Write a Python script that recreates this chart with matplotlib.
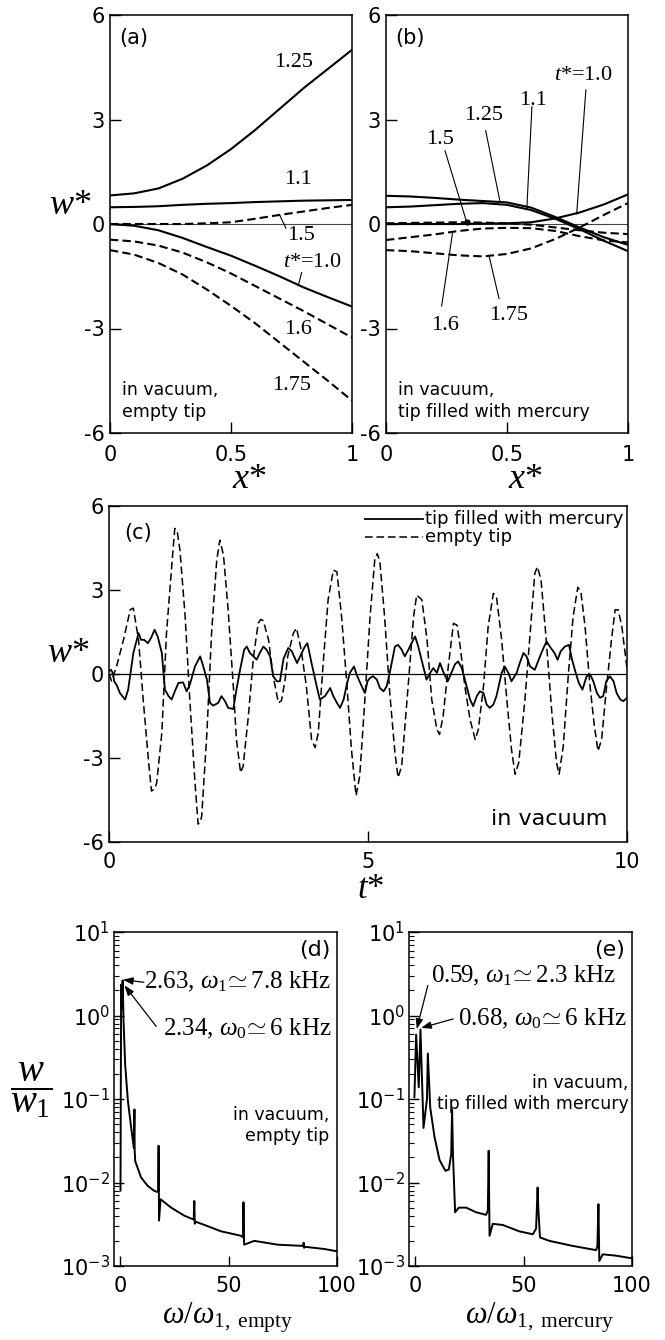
import matplotlib
matplotlib.use("Agg")
import matplotlib.pyplot as plt

plt.rcParams.update({
    "font.family": "DejaVu Sans",
    "mathtext.fontset": "custom",
    "mathtext.rm": "Liberation Serif",
    "mathtext.it": "Liberation Serif:italic",
    "mathtext.bf": "Liberation Serif:bold",
    "axes.unicode_minus": False,
    "axes.linewidth": 1.1,
})
SERIF = "Liberation Serif"

# ---- mode shapes along the cantilever, w*(x*) at several t* ----
x_star = [0.0, 0.1, 0.2, 0.3, 0.4, 0.5, 0.6, 0.7, 0.8, 0.9, 1.0]

# (a) empty tip
a_t100 = [0.0, -0.05, -0.18, -0.40, -0.66, -0.91, -1.20, -1.50, -1.82, -2.10, -2.37]
a_t110 = [0.48, 0.49, 0.51, 0.55, 0.58, 0.60, 0.63, 0.65, 0.67, 0.68, 0.69]
a_t125 = [0.82, 0.88, 1.02, 1.30, 1.68, 2.15, 2.70, 3.30, 3.90, 4.45, 5.00]
a_t150 = [0.0, 0.0, 0.0, 0.0, 0.02, 0.05, 0.15, 0.26, 0.36, 0.46, 0.55]
a_t160 = [-0.45, -0.50, -0.62, -0.82, -1.10, -1.42, -1.78, -2.14, -2.50, -2.88, -3.26]
a_t175 = [-0.75, -0.88, -1.12, -1.45, -1.88, -2.35, -2.85, -3.40, -3.95, -4.50, -5.07]

# (b) tip filled with mercury
b_t100 = [0.0, 0.0, 0.0, 0.0, 0.01, 0.02, 0.05, 0.16, 0.33, 0.56, 0.85]
b_t110 = [0.48, 0.50, 0.54, 0.58, 0.60, 0.55, 0.40, 0.15, -0.15, -0.48, -0.78]
b_t125 = [0.81, 0.79, 0.75, 0.70, 0.66, 0.62, 0.47, 0.20, -0.10, -0.38, -0.60]
b_t150 = [0.02, 0.03, 0.04, 0.05, 0.04, 0.02, -0.02, -0.10, -0.18, -0.25, -0.29]
b_t160 = [-0.46, -0.38, -0.30, -0.20, -0.13, -0.11, -0.12, -0.20, -0.35, -0.47, -0.53]
b_t175 = [-0.75, -0.78, -0.84, -0.90, -0.93, -0.86, -0.70, -0.43, -0.10, 0.26, 0.60]

# ---- (c) tip response in time ----
t_merc = [0.0, 0.04, 0.08, 0.10, 0.15, 0.21, 0.31, 0.37, 0.47, 0.57, 0.62, 0.68, 0.75,
          0.81, 0.88, 0.94, 1.02, 1.08, 1.15, 1.21, 1.27, 1.34, 1.43, 1.50, 1.56, 1.66,
          1.76, 1.82, 1.89, 1.95, 2.01, 2.11, 2.17, 2.24, 2.30, 2.40, 2.46, 2.53, 2.61,
          2.66, 2.72, 2.79, 2.85, 2.91, 2.98, 3.04, 3.11, 3.17, 3.24, 3.30, 3.37, 3.46,
          3.53, 3.63, 3.69, 3.78, 3.83, 3.91, 4.01, 4.07, 4.17, 4.27, 4.33, 4.40, 4.46,
          4.53, 4.59, 4.65, 4.73, 4.78, 4.85, 4.94, 4.99, 5.04, 5.10, 5.17, 5.23, 5.30,
          5.36, 5.42, 5.52, 5.58, 5.65, 5.71, 5.78, 5.84, 5.91, 5.97, 6.05, 6.13, 6.20,
          6.26, 6.33, 6.39, 6.45, 6.54, 6.61, 6.68, 6.74, 6.81, 6.87, 6.97, 7.03, 7.10,
          7.16, 7.23, 7.29, 7.35, 7.42, 7.48, 7.58, 7.64, 7.71, 7.77, 7.87, 7.93, 8.00,
          8.06, 8.13, 8.22, 8.32, 8.40, 8.45, 8.51, 8.60, 8.66, 8.72, 8.80, 8.88, 8.94,
          9.01, 9.07, 9.14, 9.22, 9.29, 9.35, 9.42, 9.48, 9.54, 9.60, 9.67, 9.74, 9.80,
          9.87, 9.93, 10.0]
w_merc = [0.10, 0.15, 0.0, -0.26, -0.40, -0.68, -0.91, -0.56, 0.75, 1.46, 1.22, 1.22, 1.10,
          1.28, 1.58, 1.34, 0.75, -0.56, -0.79, -0.91, -0.62, -0.32, -0.30, -0.62, -0.38, 0.27,
          0.63, 0.27, -0.20, -1.03, -1.13, -1.03, -0.79, -0.97, -1.21, -1.25, -0.56, 0.15, 0.87,
          0.98, 0.75, 0.63, 0.51, 0.75, 0.98, 0.87, 0.63, -0.08, -0.26, -0.26, 0.55, 0.93,
          0.81, 0.39, 0.63, 0.98, 1.10, 0.39, -0.44, -0.91, -0.79, -0.50, -0.79, -1.03, -1.21,
          -0.91, -0.38, 0.04, 0.27, -0.02, -0.32, -0.68, -0.26, -0.14, -0.08, -0.20, -0.50, -0.62,
          -0.44, 0.04, 0.98, 1.04, 0.87, 0.63, 0.87, 1.10, 1.34, 0.98, 0.39, -0.20, 0.04,
          0.21, 0.04, 0.39, 0.09, -0.26, 0.04, 0.35, 0.45, 0.21, -0.20, -0.91, -1.15, -0.79,
          -0.62, -0.68, -1.09, -1.21, -1.09, -0.79, 0.04, 0.27, 0.04, -0.26, 0.04, 0.39, 0.75,
          0.63, 0.27, 0.15, 0.63, 0.98, 1.16, 0.98, 0.75, 0.51, 0.81, 0.98, 1.04, 0.51,
          0.04, -0.32, -0.56, -0.08, -0.02, -0.26, -0.68, -0.85, -0.79, -0.26, -0.08, -0.26, -0.68,
          -0.91, -0.97, -0.85]

t_empty = [0.0, 0.05, 0.15, 0.28, 0.41, 0.47, 0.57, 0.66, 0.76, 0.82, 0.88, 0.92, 1.02,
           1.11, 1.21, 1.27, 1.32, 1.37, 1.47, 1.56, 1.66, 1.72, 1.76, 1.79, 1.89, 1.98,
           2.08, 2.14, 2.21, 2.30, 2.40, 2.46, 2.54, 2.59, 2.69, 2.79, 2.88, 2.93, 2.98,
           3.08, 3.17, 3.27, 3.33, 3.40, 3.45, 3.56, 3.62, 3.71, 3.81, 3.91, 3.98, 4.04,
           4.14, 4.23, 4.33, 4.40, 4.49, 4.59, 4.68, 4.77, 4.84, 4.94, 5.04, 5.13, 5.18,
           5.23, 5.32, 5.42, 5.52, 5.58, 5.65, 5.78, 5.88, 5.94, 6.04, 6.14, 6.23, 6.33,
           6.38, 6.45, 6.55, 6.65, 6.72, 6.78, 6.87, 6.97, 7.07, 7.13, 7.23, 7.32, 7.42,
           7.48, 7.58, 7.68, 7.77, 7.84, 7.91, 8.03, 8.13, 8.22, 8.27, 8.34, 8.43, 8.55,
           8.64, 8.69, 8.77, 8.87, 8.96, 9.05, 9.11, 9.19, 9.28, 9.37, 9.44, 9.51, 9.60,
           9.70, 9.77, 9.83, 9.90, 10.0]
w_empty = [0.0, -0.25, 0.30, 1.22, 2.30, 2.35, 1.22, -0.91, -3.05, -4.18, -4.10, -3.90, -2.10,
           1.46, 3.83, 5.20, 5.05, 4.42, 2.05, -0.91, -3.88, -5.36, -5.30, -5.07, -2.10, 1.46,
           4.07, 4.78, 4.25, 2.29, -0.44, -2.34, -3.52, -3.29, -1.51, 0.63, 1.81, 1.95, 1.90,
           1.22, -0.08, -1.03, -0.95, -0.20, 0.63, 1.46, 1.64, 0.87, -0.44, -2.34, -2.63, -2.10,
           0.51, 2.65, 3.71, 3.65, 2.05, -0.32, -2.69, -4.35, -3.64, -0.91, 2.05, 4.07, 4.30,
           4.00, 2.05, -0.68, -2.81, -3.70, -3.29, -0.32, 2.05, 2.82, 2.65, 1.22, -0.91, -1.98,
           -2.16, -1.51, 0.27, 1.81, 1.74, 0.98, -0.44, -1.63, -2.34, -1.98, -0.44, 1.70, 2.88,
           2.76, 1.22, -0.91, -2.69, -3.58, -3.17, -0.91, 1.46, 3.59, 3.83, 3.36, 1.46, -1.39,
           -3.17, -3.58, -2.57, 0.04, 2.05, 3.10, 2.94, 1.70, -0.32, -1.86, -2.75, -2.34, -0.56,
           1.22, 2.29, 2.29, 1.70, 0.20]

# ---- (d), (e) amplitude spectra ----
freq_empty = [0.0, 0.3, 0.6, 1.0, 1.4, 2.15, 3.4, 4.9, 6.15, 6.45, 6.55, 6.8, 9.5, 12.6,
              15.7, 17.4, 17.6, 17.8, 18.5, 23.4, 29.5, 33.8, 34.1, 34.3, 34.6, 38.8, 46.5,
              55.7, 56.6, 56.8, 57.1, 61.8, 72.6, 84.4, 84.6, 84.8, 85.0, 94.0, 100.0]
amp_empty = [0.008, 2.34, 1.2, 2.63, 0.87, 0.26, 0.096, 0.046, 0.026, 0.075, 0.024, 0.018,
             0.0115, 0.0091, 0.0079, 0.0077, 0.0276, 0.0035, 0.0063, 0.0050, 0.0040, 0.0036,
             0.006, 0.0032, 0.0034, 0.0031, 0.0026, 0.0023, 0.0022, 0.0058, 0.0018, 0.0020,
             0.0018, 0.00174, 0.0019, 0.00165, 0.0017, 0.0016, 0.0015]

freq_merc = [-0.5, 0.3, 1.5, 2.3, 3.7, 5.3, 5.7, 6.8, 8.8, 11.1, 13.8, 15.4, 16.5, 16.9,
             17.3, 18.3, 20.0, 23.4, 28.0, 32.6, 33.4, 33.8, 34.2, 35.7, 40.3, 48.0, 54.2,
             55.7, 56.4, 56.8, 57.5, 61.8, 72.6, 83.4, 84.0, 84.5, 84.9, 86.5, 92.6, 98.8, 100.0]
amp_merc = [0.105, 0.59, 0.138, 0.68, 0.045, 0.10, 0.35, 0.079, 0.035, 0.0186, 0.0138,
            0.0143, 0.022, 0.075, 0.022, 0.0044, 0.0050, 0.0050, 0.0044, 0.0041, 0.0046,
            0.024, 0.0023, 0.0032, 0.0031, 0.0026, 0.0024, 0.0028, 0.0087, 0.0045, 0.0022,
            0.0020, 0.00174, 0.00155, 0.0017, 0.0055, 0.00115, 0.00138, 0.00133, 0.00125,
            0.00124]

DASH = (0, (4, 2))
W, H = 665, 1340


def box(left, top, right, bottom):
    return [left / W, 1 - bottom / H, (right - left) / W, (bottom - top) / H]


fig = plt.figure(figsize=(W / 100, H / 100), dpi=100)


def shape_axes(ax, curves, labels, leaders, note, tag, show_ylabel):
    ax.axhline(0, color="#444444", lw=0.8, zorder=1)
    for vals, solid in curves:
        ax.plot(x_star, vals, color="k", lw=1.5, ls="-" if solid else DASH, zorder=3)
    for text, x, y in labels:
        ax.text(x, y, text, fontsize=16, fontfamily=SERIF, ha="center", va="center")
    for (x0, y0), (x1, y1) in leaders:
        ax.plot([x0, x1], [y0, y1], color="k", lw=0.8)
    ax.text(0.05, -4.5, note, fontsize=12.5, ha="left", va="top", linespacing=1.3)
    ax.text(0.04, 5.35, tag, fontsize=15, ha="left", va="center")
    ax.set_xlim(0, 1)
    ax.set_ylim(-6, 6)
    ax.set_xticks([0, 0.5, 1])
    ax.set_xticklabels(["0", "0.5", "1"])
    ax.set_yticks([-6, -3, 0, 3, 6])
    ax.tick_params(direction="in", length=8, width=1, labelsize=15, top=False, right=False)
    ax.tick_params(axis="x", pad=9)
    ax.tick_params(axis="y", pad=4)
    ax.set_xlabel("$x$*", fontsize=26, fontfamily=SERIF, va="center")
    ax.xaxis.set_label_coords(0.575, -0.112)
    if show_ylabel:
        ax.set_ylabel("$w$*", fontsize=26, fontfamily=SERIF, rotation=0,
                      ha="center", va="center")
        ax.yaxis.set_label_coords(-0.165, 0.545)


ax_a = fig.add_axes(box(110, 15, 352, 433))
shape_axes(
    ax_a,
    [(a_t125, True), (a_t110, True), (a_t100, True),
     (a_t150, False), (a_t160, False), (a_t175, False)],
    [("1.25", 0.757, 4.64), ("1.1", 0.778, 1.29), ("1.5", 0.79, -0.34),
     ("$t$*=1.0", 0.835, -1.10), ("1.6", 0.778, -3.04), ("1.75", 0.75, -4.64)],
    [((0.70, 0.27), (0.727, -0.12)), ((0.778, -1.76), (0.792, -1.39))],
    "in vacuum,\nempty tip", "(a)", True)

ax_b = fig.add_axes(box(386, 15, 628, 433))
shape_axes(
    ax_b,
    [(b_t125, True), (b_t110, True), (b_t100, True),
     (b_t150, False), (b_t160, False), (b_t175, False)],
    [("$t$*=1.0", 0.815, 4.26), ("1.1", 0.609, 3.54), ("1.25", 0.402, 3.11),
     ("1.5", 0.223, 2.44), ("1.6", 0.244, -2.92), ("1.75", 0.505, -2.63)],
    [((0.826, 3.85), (0.788, 0.29)), ((0.603, 3.37), (0.582, 0.45)),
     ((0.412, 2.68), (0.471, 0.64)), ((0.244, 2.10), (0.333, 0.06)),
     ((0.230, -2.35), (0.275, -0.25)), ((0.467, -2.14), (0.426, -0.92))],
    "in vacuum,\ntip filled with mercury", "(b)", False)
ax_b.plot([0.333], [0.05], "o", color="k", ms=3.5, zorder=4)

# ---- (c) ----
ax_c = fig.add_axes(box(109, 506, 627, 842))
ax_c.axhline(0, color="k", lw=0.9, zorder=1)
ax_c.plot(t_merc, w_merc, color="k", lw=1.3, zorder=3)
ax_c.plot(t_empty, w_empty, color="k", lw=1.1, ls=(0, (5, 2.5)), zorder=2)
ax_c.set_xlim(0, 10)
ax_c.set_ylim(-6, 6)
ax_c.set_xticks([0, 5, 10])
ax_c.set_yticks([-6, -3, 0, 3, 6])
ax_c.tick_params(direction="in", length=8, width=1, labelsize=15, top=False, right=False)
ax_c.tick_params(axis="x", pad=7)
ax_c.tick_params(axis="y", pad=4)
ax_c.set_xlabel("$t$*", fontsize=25, fontfamily=SERIF, va="center")
ax_c.xaxis.set_label_coords(0.506, -0.142)
ax_c.set_ylabel("$w$*", fontsize=26, fontfamily=SERIF, rotation=0, ha="center", va="center")
ax_c.yaxis.set_label_coords(-0.078, 0.56)
ax_c.text(0.03, 0.92, "(c)", transform=ax_c.transAxes, fontsize=15, va="center")
ax_c.text(0.963, 0.05, "in vacuum", transform=ax_c.transAxes, fontsize=16,
          ha="right", va="baseline")
# hand-placed key
ax_c.plot([0.494, 0.606], [0.961, 0.961], color="k", lw=1.3, transform=ax_c.transAxes)
ax_c.plot([0.494, 0.606], [0.908, 0.908], color="k", lw=1.1, ls=(0, (5, 2.5)),
          transform=ax_c.transAxes)
ax_c.text(0.61, 0.961, "tip filled with mercury", transform=ax_c.transAxes,
          fontsize=13, va="center")
ax_c.text(0.61, 0.908, "empty tip", transform=ax_c.transAxes, fontsize=13, va="center")


# ---- (d), (e) ----
def spectrum_axes(ax, freq, amp, note, note_xy, tag, xlabel, xlabel_x):
    ax.semilogy(freq, amp, color="k", lw=1.4)
    ax.set_xlim(-3, 100)
    ax.set_ylim(1e-3, 1e1)
    ax.set_xticks([0, 50, 100])
    ax.tick_params(which="major", direction="in", length=7, width=1, labelsize=15,
                   top=False, right=False)
    ax.tick_params(which="minor", direction="in", length=3.5, width=0.8,
                   top=False, right=False)
    ax.tick_params(axis="x", pad=7)
    ax.tick_params(axis="y", which="major", pad=3)
    ax.text(0.97, 0.975, tag, transform=ax.transAxes, fontsize=16, ha="right", va="top")
    ax.text(note_xy[0], note_xy[1], note, transform=ax.transAxes, fontsize=12.5,
            ha="right", va="top", multialignment="right", linespacing=1.25)
    ax.set_xlabel(xlabel, fontsize=22, va="center")
    ax.xaxis.set_label_coords(xlabel_x, -0.156)


def arrow(ax, start, tip):
    ax.annotate("", xy=tip, xytext=start,
                arrowprops=dict(arrowstyle="-|>,head_length=0.6,head_width=0.22",
                                color="k", lw=0.9, shrinkA=0, shrinkB=0))


ax_d = fig.add_axes(box(114, 932, 337, 1266))
spectrum_axes(ax_d, freq_empty, amp_empty, "in vacuum,\nempty tip", (0.965, 0.48), "(d)",
              r"$\omega/\omega_{\mathrm{1,\ empty}}$", 0.507)
ax_d.text(11, 2.5, r"2.63, $\omega_1\!\simeq$7.8 kHz", fontsize=18, fontfamily=SERIF,
          va="center")
ax_d.text(19.5, 0.69, r"2.34, $\omega_0\!\simeq$6 kHz", fontsize=18, fontfamily=SERIF,
          va="center")
arrow(ax_d, (10.8, 2.5), (1.1, 2.68))
arrow(ax_d, (16.5, 0.74), (1.85, 2.29))

ax_e = fig.add_axes(box(409, 932, 632, 1266))
spectrum_axes(ax_e, freq_merc, amp_merc, "in vacuum,\ntip filled with mercury",
              (0.985, 0.575), "(e)", r"$\omega/\omega_{\mathrm{1,\ mercury}}$", 0.583)
ax_e.text(7.3, 3.0, r"0.59, $\omega_1\!\simeq$2.3 kHz", fontsize=18, fontfamily=SERIF,
          va="center")
ax_e.text(19.6, 0.91, r"0.68, $\omega_0\!\simeq$6 kHz", fontsize=18, fontfamily=SERIF,
          va="center")
arrow(ax_e, (5.7, 2.29), (0.6, 0.69))
arrow(ax_e, (17.4, 0.91), (2.6, 0.71))

fig.text(31 / W, 1 - 1090 / H, r"$\dfrac{w}{w_1}$", fontsize=28, ha="center", va="center")

fig.savefig("out.png", dpi=100)
